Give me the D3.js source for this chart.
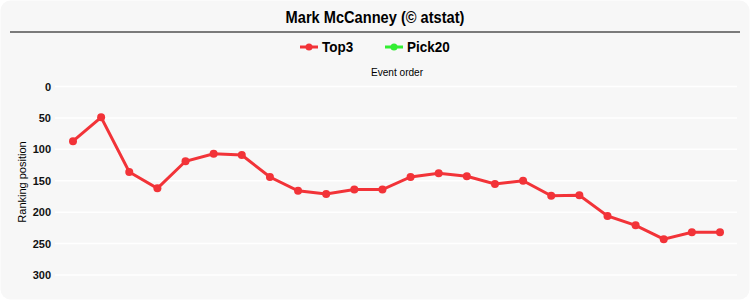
<html>
  <head>
    <meta charset="utf-8">
    <style>
      body { margin: 0; background: #fff; }
      .grid line { stroke: #fff; stroke-width: 1.5px; }
      .line1 { fill: none; stroke: #f23338; stroke-width: 3px; }
      text { font-family: "Liberation Sans", Arial, sans-serif; }
    </style>
  </head>
<body>
  <svg width="750" height="300"></svg>
  <script src="https://d3js.org/d3.v7.min.js"></script>
  <script>
    var title = "Mark McCanney (\u00a9 atstat)";
    var seriesNames = ["Top3", "Pick20"];
    var seriesColors = ["#f23338", "#33ee33"];
    var yTicks = [0, 50, 100, 150, 200, 250, 300];
    var top3 = [87, 49, 136, 162, 119, 107, 109, 144, 166, 171, 164, 164,
                144, 138, 143, 155, 150, 174, 173, 206, 221, 243, 232, 232];

    var svg = d3.select("svg");

    svg.append("rect")
      .attr("x", 0.5).attr("y", 0.5)
      .attr("width", 749).attr("height", 299)
      .attr("rx", 10).attr("ry", 10)
      .attr("fill", "#f7f7f7");

    // narrow look: squeeze horizontally
    svg.append("g")
      .attr("transform", "translate(375,23) scale(0.86,1)")
      .append("text")
      .attr("text-anchor", "middle")
      .style("font-weight", "bold")
      .style("font-size", "17px")
      .text(title);

    svg.append("line")
      .attr("x1", 10).attr("x2", 740)
      .attr("y1", 32).attr("y2", 32)
      .attr("stroke", "#000").attr("stroke-width", 1.2);

    // legend
    var legX = [300, 385];
    seriesNames.forEach(function(n, i) {
      var lg = svg.append("g").attr("transform", "translate(" + legX[i] + ",47)");
      lg.append("line").attr("x1", 0).attr("x2", 18)
        .attr("stroke", seriesColors[i]).attr("stroke-width", 3);
      lg.append("circle").attr("cx", 9).attr("r", 3.5).attr("fill", seriesColors[i]);
      lg.append("text")
        .attr("transform", "translate(22,5) scale(0.9,1)")
        .style("font-weight", "bold")
        .style("font-size", "15px")
        .text(n);
    });

    svg.append("g")
      .attr("transform", "translate(397,76) scale(0.92,1)")
      .append("text")
      .attr("text-anchor", "middle")
      .style("font-size", "11px")
      .text("Event order");

    var x = d3.scalePoint()
      .domain(d3.range(top3.length))
      .range([73, 720]);

    var y = d3.scaleLinear()
      .domain([0, 300])
      .range([86.5, 275]);

    svg.append("g")
      .attr("class", "grid")
      .selectAll("line")
      .data(yTicks)
      .join("line")
        .attr("x1", 55).attr("x2", 737)
        .attr("y1", function(d) { return y(d); })
        .attr("y2", function(d) { return y(d); });

    var yAxis = svg.append("g")
      .attr("transform", "translate(51,0)")
      .call(d3.axisLeft(y).tickValues(yTicks).tickSize(0).tickPadding(0));
    yAxis.select(".domain").remove();
    yAxis.selectAll("text")
      .style("font-family", "'Liberation Sans', Arial, sans-serif")
      .style("font-weight", "bold")
      .style("font-size", "11px")
      .attr("fill", "#111");

    svg.append("text")
      .attr("transform", "translate(26,182) rotate(-90)")
      .attr("text-anchor", "middle")
      .style("font-size", "11px")
      .text("Ranking position");

    var line = d3.line()
      .x(function(d, i) { return x(i); })
      .y(function(d) { return y(d); });

    svg.append("path")
      .datum(top3)
      .attr("class", "line1")
      .attr("d", line);

    svg.append("g")
      .selectAll("circle")
      .data(top3)
      .join("circle")
        .attr("cx", function(d, i) { return x(i); })
        .attr("cy", function(d) { return y(d); })
        .attr("r", 4)
        .attr("fill", "#f23338");
  </script>
  </body>
</html>
